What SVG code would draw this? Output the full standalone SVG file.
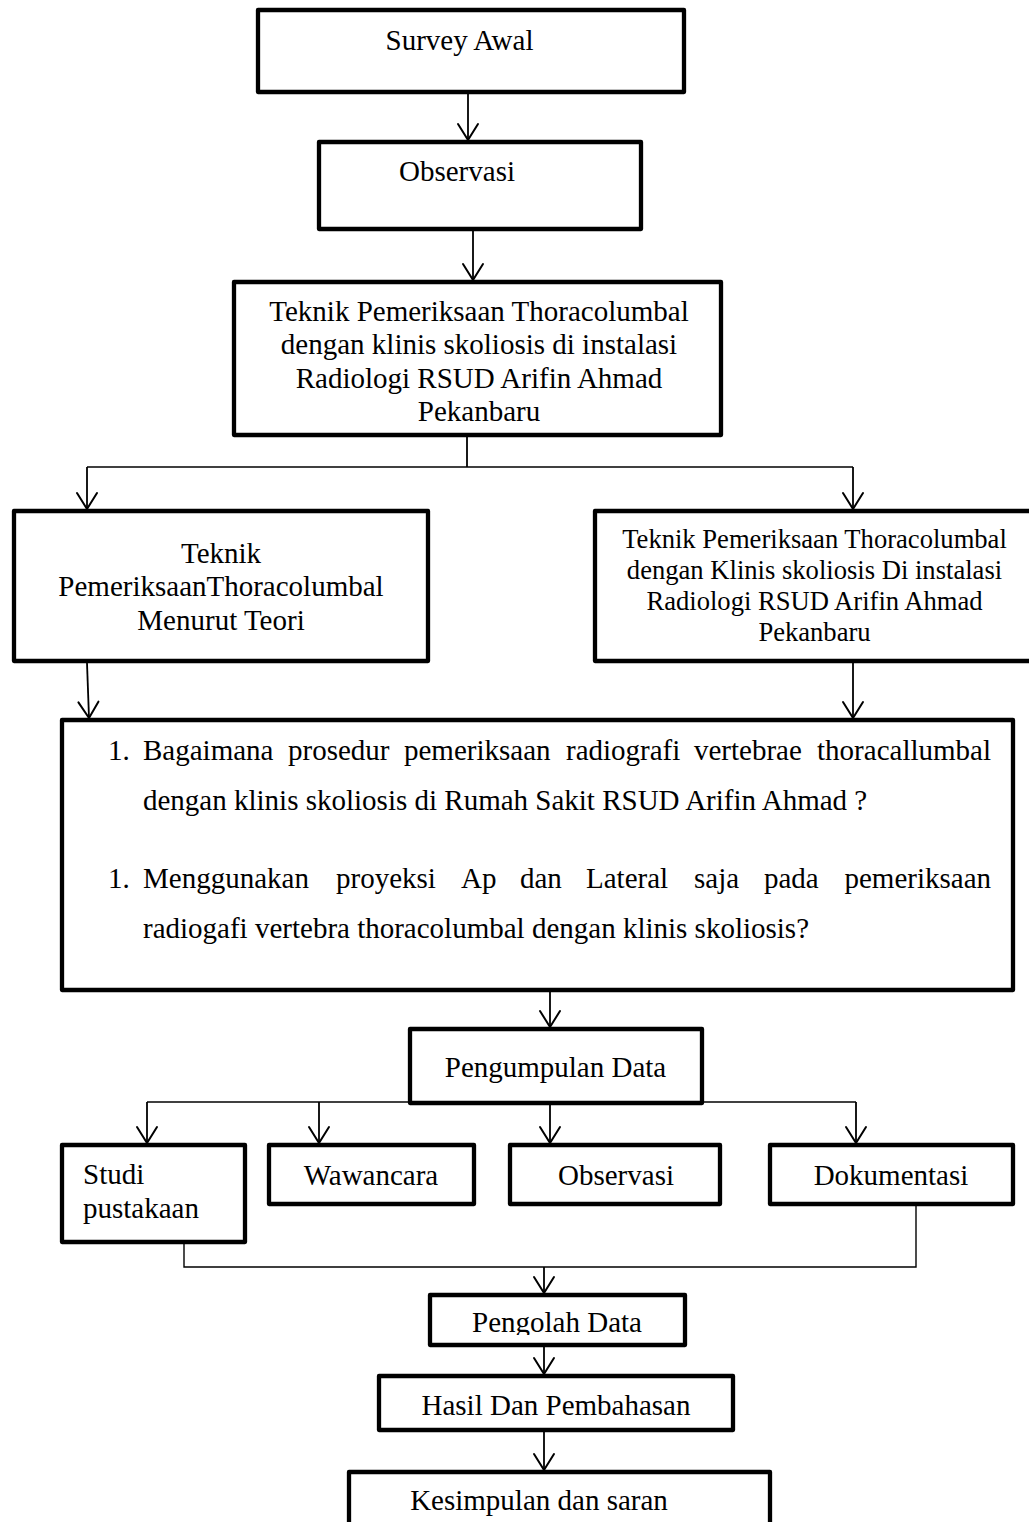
<svg xmlns="http://www.w3.org/2000/svg" width="1029" height="1522" viewBox="0 0 1029 1522">
<style>
.box{fill:#fff;stroke:#000;stroke-width:4.3;stroke-linejoin:round}
.t{font-family:"Liberation Serif","Times New Roman",serif;font-size:29px;fill:#000}
.s{font-size:26.6px}
.c{text-anchor:middle}
.e{text-anchor:end}
.ln{fill:none;stroke:#000;stroke-width:1.8}
.br{fill:none;stroke:#000;stroke-width:1.4}
.ar{fill:none;stroke:#000;stroke-width:1.8;marker-end:url(#ah)}
</style>
<defs>
<marker id="ah" markerUnits="userSpaceOnUse" viewBox="-20 -13 22 26" refX="0" refY="0" markerWidth="22" markerHeight="26" orient="auto">
<path d="M-16,-10 L0,0 L-16,10" fill="none" stroke="#000" stroke-width="2" stroke-linejoin="round" stroke-linecap="round"/>
</marker>
<clipPath id="clipPengolah"><rect x="432" y="1297" width="251" height="38"/></clipPath>
</defs>
<rect width="1029" height="1522" fill="#fff"/>
<g id="connectors">
<line class="ar" x1="468" y1="94" x2="468" y2="140"/>
<line class="ar" x1="473" y1="231" x2="473" y2="280"/>
<line class="ln" x1="467" y1="437" x2="467" y2="467"/>
<line class="br" x1="87" y1="467" x2="853" y2="467"/>
<line class="ar" x1="87" y1="467" x2="87" y2="509"/>
<line class="ar" x1="853" y1="467" x2="853" y2="509"/>
<line class="ar" x1="87" y1="663" x2="89" y2="718"/>
<line class="ar" x1="853" y1="663" x2="853" y2="718"/>
<line class="ar" x1="550" y1="992" x2="550" y2="1027"/>
<line class="br" x1="147" y1="1102" x2="856" y2="1102"/>
<line class="ar" x1="147" y1="1102" x2="147" y2="1143"/>
<line class="ar" x1="319" y1="1102" x2="319" y2="1143"/>
<line class="ar" x1="550" y1="1105" x2="550" y2="1143"/>
<line class="ar" x1="856" y1="1102" x2="856" y2="1143"/>
<polyline class="br" points="184,1244 184,1267 916,1267 916,1206"/>
<line class="ar" x1="544" y1="1267" x2="544" y2="1293"/>
<line class="ar" x1="544" y1="1347" x2="544" y2="1374"/>
<line class="ar" x1="544" y1="1432" x2="544" y2="1470"/>
</g>
<g id="survey-awal">
<rect class="box" x="258" y="10" width="426" height="82"/>
<text class="t c" x="459.5" y="50">Survey Awal</text>
</g>
<g id="observasi-awal">
<rect class="box" x="319" y="142" width="322" height="87"/>
<text class="t c" x="457" y="181">Observasi</text>
</g>
<g id="teknik-utama">
<rect class="box" x="234" y="282" width="487" height="153"/>
<text class="t c" x="479" y="320.5">Teknik Pemeriksaan Thoracolumbal</text>
<text class="t c" x="479" y="354">dengan klinis skoliosis di instalasi</text>
<text class="t c" x="479" y="388">Radiologi RSUD Arifin Ahmad</text>
<text class="t c" x="479" y="421">Pekanbaru</text>
</g>
<g id="teknik-teori">
<rect class="box" x="14" y="511" width="414" height="150"/>
<text class="t c" x="221" y="563">Teknik</text>
<text class="t c" x="221" y="596">PemeriksaanThoracolumbal</text>
<text class="t c" x="221" y="630">Menurut Teori</text>
</g>
<g id="teknik-rsud">
<rect class="box" x="595" y="511" width="440" height="150"/>
<text class="t s c" x="814.5" y="548">Teknik Pemeriksaan Thoracolumbal</text>
<text class="t s c" x="814.5" y="579">dengan Klinis skoliosis Di instalasi</text>
<text class="t s c" x="814.5" y="610">Radiologi RSUD Arifin Ahmad</text>
<text class="t s c" x="814.5" y="641">Pekanbaru</text>
</g>
<g id="rumusan-masalah">
<rect class="box" x="62" y="720" width="951" height="270"/>
<text class="t" y="760"><tspan x="108">1.</tspan><tspan x="143">Bagaimana</tspan><tspan x="288">prosedur</tspan><tspan x="404">pemeriksaan</tspan><tspan x="566">radiografi</tspan><tspan x="694">vertebrae</tspan></text>
<text class="t e" x="991" y="760">thoracallumbal</text>
<text class="t" x="143" y="810">dengan klinis skoliosis di Rumah Sakit RSUD Arifin Ahmad ?</text>
<text class="t" y="888"><tspan x="108">1.</tspan><tspan x="143">Menggunakan</tspan><tspan x="336">proyeksi</tspan><tspan x="461">Ap</tspan><tspan x="520">dan</tspan><tspan x="586">Lateral</tspan><tspan x="694">saja</tspan><tspan x="764">pada</tspan></text>
<text class="t e" x="991" y="888">pemeriksaan</text>
<text class="t" x="143" y="938">radiogafi vertebra thoracolumbal dengan klinis skoliosis?</text>
</g>
<g id="pengumpulan-data">
<rect class="box" x="410" y="1029" width="292" height="74"/>
<text class="t c" x="555.5" y="1077">Pengumpulan Data</text>
</g>
<g id="studi-pustakaan">
<rect class="box" x="62" y="1145" width="183" height="97"/>
<text class="t" x="83" y="1184">Studi</text>
<text class="t" x="83" y="1218">pustakaan</text>
</g>
<g id="wawancara">
<rect class="box" x="269" y="1145" width="205" height="59"/>
<text class="t c" x="371" y="1185">Wawancara</text>
</g>
<g id="observasi">
<rect class="box" x="510" y="1145" width="210" height="59"/>
<text class="t c" x="616" y="1185">Observasi</text>
</g>
<g id="dokumentasi">
<rect class="box" x="770" y="1145" width="243" height="59"/>
<text class="t c" x="891" y="1185">Dokumentasi</text>
</g>
<g id="pengolah-data">
<rect class="box" x="430" y="1295" width="255" height="50"/>
<text class="t c" x="557" y="1332" clip-path="url(#clipPengolah)">Pengolah Data</text>
</g>
<g id="hasil-pembahasan">
<rect class="box" x="379" y="1376" width="354" height="54"/>
<text class="t c" x="556" y="1415">Hasil Dan Pembahasan</text>
</g>
<g id="kesimpulan">
<rect class="box" x="349" y="1472" width="421" height="80"/>
<text class="t c" x="539" y="1510">Kesimpulan dan saran</text>
</g>
</svg>
